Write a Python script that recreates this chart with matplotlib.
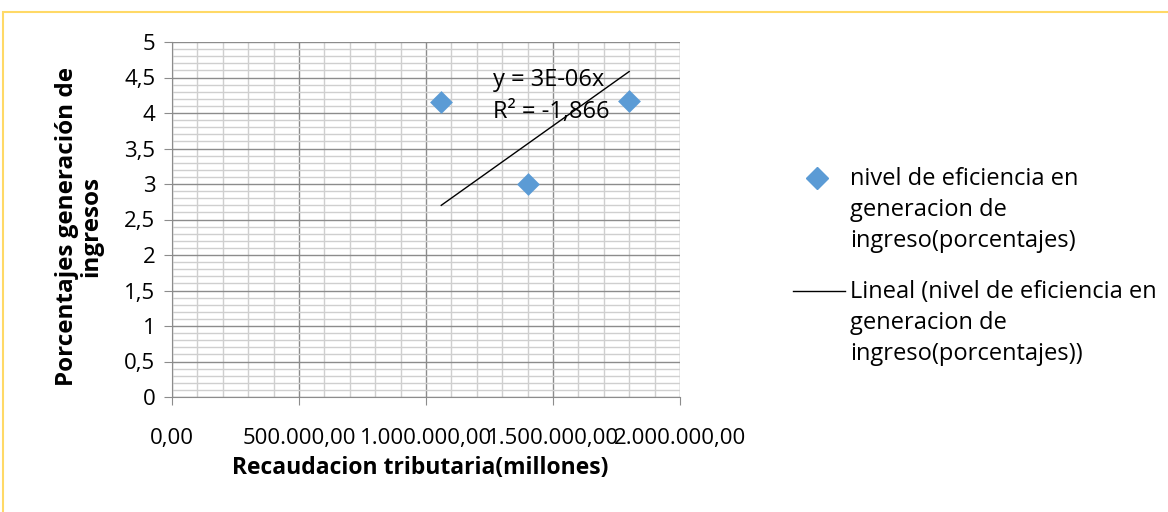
import matplotlib
matplotlib.use("Agg")
import matplotlib.pyplot as plt
import numpy as np
from matplotlib.patches import Rectangle
from matplotlib.lines import Line2D
from matplotlib.ticker import MultipleLocator, FuncFormatter

# data
recaudacion = [1_060_000, 1_400_000, 1_800_000]
eficiencia = [4.15, 3.0, 4.17]
serie_label = "nivel de eficiencia en\ngeneracion de\ningreso(porcentajes)"
trend_label = "Lineal (nivel de eficiencia en\ngeneracion de\ningreso(porcentajes))"
trend_text = "y = 3E-06x\nR² = -1,866"

BLUE = "#5b9bd5"
W, H = 1168, 512

plt.rcParams["font.family"] = ["Open Sans", "DejaVu Sans"]

fig = plt.figure(figsize=(W / 100, H / 100), dpi=100)
ax = fig.add_axes([172 / W, 1 - 397 / H, 508 / W, 355 / H])

# outer chart frame (yellow), only top and left edges visible
fig.patches.append(Rectangle((3 / W, -0.1), 1.2, 1 - 12 / H + 0.1,
                             transform=fig.transFigure, fill=False,
                             edgecolor="#ffd966", linewidth=1.5))

ax.set_xlim(0, 2_000_000)
ax.set_ylim(0, 5)
ax.xaxis.set_major_locator(MultipleLocator(500_000))
ax.xaxis.set_minor_locator(MultipleLocator(100_000))
ax.yaxis.set_major_locator(MultipleLocator(0.5))
ax.yaxis.set_minor_locator(MultipleLocator(0.1))

ax.grid(which="minor", color="#cfcfcf", linewidth=1.0)
ax.grid(which="major", color="#8c8c8c", linewidth=1.0)
ax.set_axisbelow(True)

for side in ["top", "right"]:
    ax.spines[side].set_visible(False)
for side in ["left", "bottom"]:
    ax.spines[side].set_color("#8c8c8c")

ax.tick_params(which="minor", length=0)
ax.tick_params(which="major", length=6, color="#8c8c8c", labelsize=16)
ax.tick_params(axis="y", which="major", pad=6)
ax.tick_params(axis="x", which="major", pad=16)

ax.yaxis.set_major_formatter(FuncFormatter(
    lambda v, _: f"{v:g}".replace(".", ",")))
ax.xaxis.set_major_formatter(FuncFormatter(
    lambda v, _: f"{v:,.2f}".replace(",", "X").replace(".", ",").replace("X", ".")))

x = np.array(recaudacion, dtype=float)
y = np.array(eficiencia, dtype=float)
ax.scatter(x, y, marker="D", s=135, color=BLUE, zorder=3, linewidths=0)

# linear trend forced through the origin, drawn over the data range
slope = np.sum(x * y) / np.sum(x * x)
xs = np.array([x.min(), x.max()])
ax.plot(xs, slope * xs, color="black", linewidth=1.0, zorder=4)

ax.text(1_263_000, 4.63, trend_text, fontsize=17, va="top", ha="left",
        linespacing=1.44, zorder=5)

ax.set_xlabel("Recaudacion tributaria(millones)", fontsize=16.5,
              fontweight="bold")
ax.xaxis.set_label_coords(0.488, -0.165)
ax.set_ylabel("Porcentajes generación de\ningresos", fontsize=17.5,
              fontweight="bold", linespacing=1.0)
ax.yaxis.set_label_coords(-0.136, 0.479)

# legend drawn by hand so markers line up with the first text line
fig.add_artist(Line2D([817 / W], [1 - 178 / H], marker="D", color=BLUE,
                      markersize=11, linestyle="none",
                      transform=fig.transFigure))
fig.text(850 / W, 1 - 167 / H, serie_label, fontsize=17, va="top",
         ha="left", linespacing=1.4)
fig.add_artist(Line2D([793 / W, 845 / W], [1 - 291 / H, 1 - 291 / H],
                      color="black", linewidth=1.0,
                      transform=fig.transFigure))
fig.text(850 / W, 1 - 280 / H, trend_label, fontsize=17, va="top",
         ha="left", linespacing=1.4)

fig.savefig("out.png", dpi=100)
